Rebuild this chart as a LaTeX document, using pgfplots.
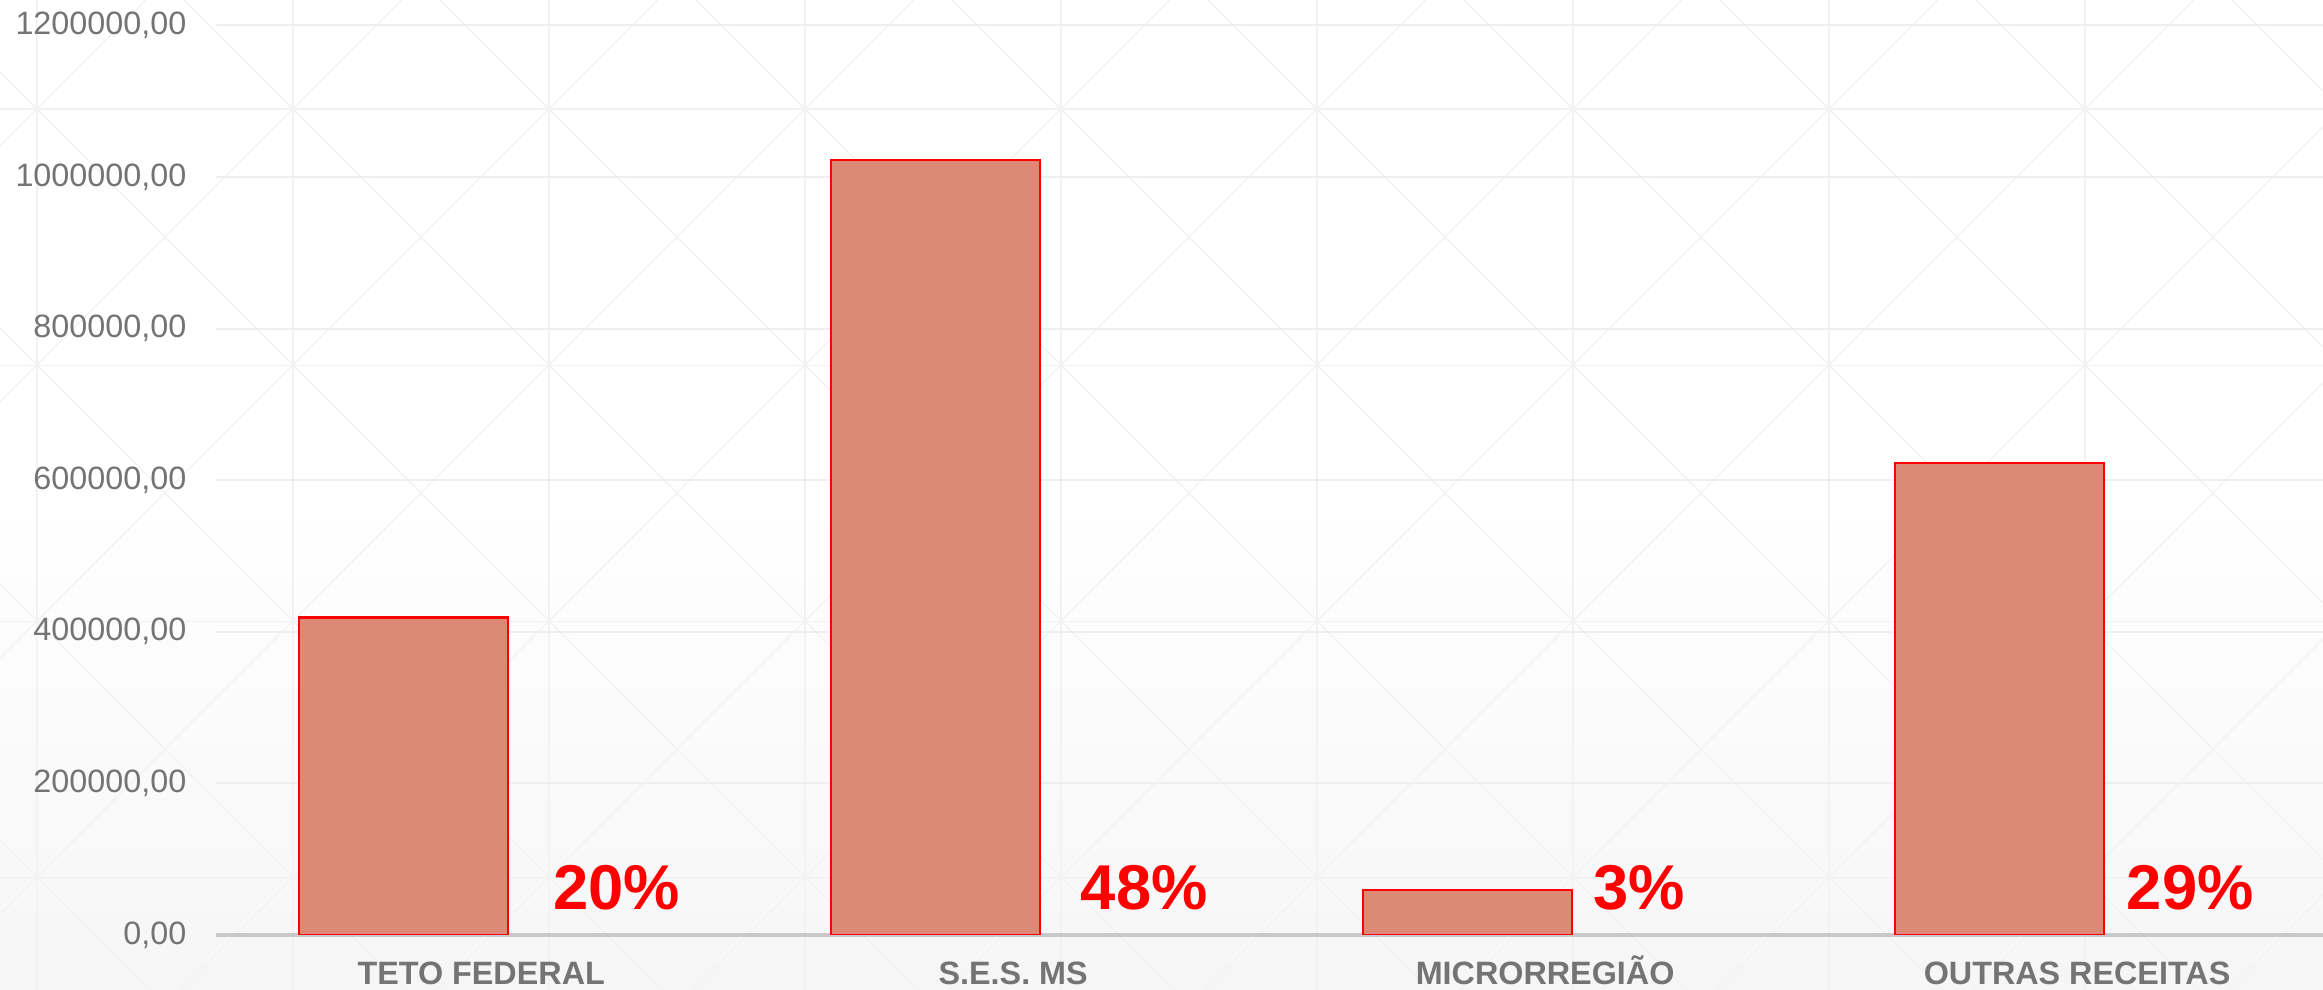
\documentclass[border=0pt]{standalone}
\usepackage{fontspec}
\setmainfont{Liberation Sans}
\usepackage{pgfplots}
\pgfplotsset{compat=1.18}
\definecolor{barfill}{HTML}{DC8A76}
\definecolor{tickgray}{HTML}{747474}
\definecolor{gridc}{HTML}{EFEFEF}
\definecolor{axisc}{HTML}{C8C8C8}
\definecolor{latc}{HTML}{F2F2F2}
\definecolor{bgbot}{HTML}{F6F6F6}
\begin{document}
\begin{tikzpicture}
\shade[top color=white, bottom color=bgbot, middle color=white] (-64.8pt,-16.5pt) rectangle (632.1pt,280.5pt);
\begin{scope}[x=0.3pt,y=-0.3pt,shift={(-64.8pt,280.5pt)}]
\clip (0,0) rectangle (2323,990);
\foreach \k in {0,...,9} {\draw[latc, line width=0.4pt] ({37+256*\k},0) -- ({37+256*\k},990);}
\foreach \k in {0,...,3} {\draw[latc, line width=0.4pt] (0,{109+256.3*\k}) -- (2323,{109+256.3*\k});}
\foreach \k in {-6,...,14} {
  \draw[latc, line width=0.4pt] ({-72+256*\k-300},-300) -- ({-72+256*\k+1300},1300);
  \draw[latc, line width=0.4pt] ({146+256*\k+300},-300) -- ({146+256*\k-1300},1300);
}
\end{scope}
\begin{axis}[
  scale only axis, width=632.1pt, height=272.9pt,
  xmin=-0.353, xmax=3.608, ymin=0, ymax=1200000,
  ybar, bar width=0.393,
  axis x line*=bottom, axis y line*=left,
  y axis line style={draw=none},
  x axis line style={axisc, line width=1pt},
  ymajorgrids, grid style={gridc, line width=0.6pt},
  major tick length=0pt,
  ytick={0,200000,400000,600000,800000,1000000,1200000},
  scaled y ticks=false,
  yticklabel style={/pgf/number format/fixed, /pgf/number format/fixed zerofill, /pgf/number format/precision=2, /pgf/number format/use comma, /pgf/number format/1000 sep={}, /pgf/number format/assume math mode=true},
  yticklabel style={font=\fontsize{9.7}{11}\selectfont, text=tickgray, anchor=east, inner sep=0pt, xshift=-8.7pt},
  xtick={0.1456,1.1456,2.1456,3.1456},
  xticklabels={TETO FEDERAL, S.E.S. MS, MICRORREGIÃO, OUTRAS RECEITAS},
  xticklabel style={font=\bfseries\fontsize{9.7}{11}\selectfont, text=tickgray, anchor=base, inner sep=0pt, yshift=-14.8pt},
]
\addplot[fill=barfill, draw=red, line width=0.7pt] coordinates {(0,419000) (1,1022000) (2,59000) (3,623000)};
\node[anchor=base west, inner sep=0pt, text=red, font=\bfseries\fontsize{19}{22}\selectfont] at (axis cs:0.280,33000) {20\%};
\node[anchor=base west, inner sep=0pt, text=red, font=\bfseries\fontsize{19}{22}\selectfont] at (axis cs:1.2715,33000) {48\%};
\node[anchor=base west, inner sep=0pt, text=red, font=\bfseries\fontsize{19}{22}\selectfont] at (axis cs:2.235,33000) {3\%};
\node[anchor=base west, inner sep=0pt, text=red, font=\bfseries\fontsize{19}{22}\selectfont] at (axis cs:3.238,33000) {29\%};
\end{axis}
\pgfresetboundingbox
\path[use as bounding box] (-64.8pt,-16.5pt) rectangle (632.1pt,280.5pt);
\end{tikzpicture}
\end{document}
